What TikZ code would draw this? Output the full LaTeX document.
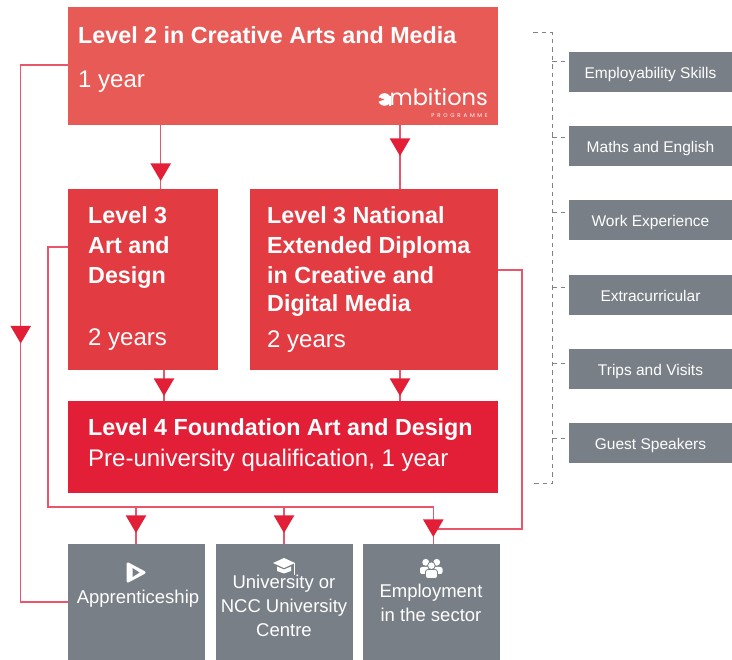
\documentclass[tikz,border=0pt]{standalone}
\usepackage{fontspec}
\setmainfont{Liberation Sans}
\newfontfamily\logofont{Poppins}
\usetikzlibrary{shapes.geometric}
\definecolor{salmonred}{HTML}{E85A56}
\definecolor{midred}{HTML}{E33B42}
\definecolor{deepred}{HTML}{E21F37}
\definecolor{linkred}{HTML}{E9556A}
\definecolor{slategrey}{HTML}{787F86}
\definecolor{dashgrey}{HTML}{7C838A}
\tikzset{
  box/.style={inner sep=0pt, outer sep=0pt, anchor=north west},
  link/.style={draw=linkred, line width=1.4pt},
  side/.style={draw=dashgrey, line width=1pt, dash pattern=on 4.5pt off 4pt},
  tip/.style={fill=deepred, inner sep=0pt, outer sep=0pt, minimum width=20.5pt, minimum height=17.5pt, isosceles triangle, isosceles triangle apex angle=60, isosceles triangle stretches, shape border rotate=-90, anchor=apex},
  head/.style={text=white, anchor=base west, inner sep=0pt, font=\fontsize{23.3}{28}\selectfont\bfseries},
  sub/.style={text=white, anchor=base west, inner sep=0pt, font=\fontsize{24}{28}\selectfont},
  caption/.style={text=white, inner sep=0pt, align=center, font=\fontsize{18.5}{24}\selectfont},
  extra/.style={box, fill=slategrey, minimum width=163pt, minimum height=40pt, text=white, text height=15pt, text depth=2pt, font=\fontsize{15.5}{18}\selectfont}
}
\begin{document}
\begin{tikzpicture}[x=1pt,y=-1pt]
  \useasboundingbox (0,0) rectangle (732,660);

  % boxes
  \node[box, fill=salmonred, minimum width=430pt, minimum height=118pt] (two) at (68,7) {};
  \node[box, fill=midred, minimum width=150pt, minimum height=181pt] (threeA) at (68,189) {};
  \node[box, fill=midred, minimum width=248pt, minimum height=181pt] (threeB) at (250,189) {};
  \node[box, fill=deepred, minimum width=430pt, minimum height=92pt] (four) at (68,401) {};
  \node[box, fill=slategrey, minimum width=137pt, minimum height=116pt] (appr) at (68,544) {};
  \node[box, fill=slategrey, minimum width=137pt, minimum height=116pt] (uni) at (216,544) {};
  \node[box, fill=slategrey, minimum width=137pt, minimum height=116pt] (job) at (363,544) {};

  % side boxes
  \node[extra] (skills) at (569,52) {Employability Skills};
  \node[extra] (maths) at (569,126) {Maths and English};
  \node[extra] (work) at (569,200) {Work Experience};
  \node[extra] (curric) at (569,275) {Extracurricular};
  \node[extra] (trips) at (569,349) {Trips and Visits};
  \node[extra] (guest) at (569,423) {Guest Speakers};

  % texts
  \node[head] (twoT) at (78,44) {Level 2 in Creative Arts and Media};
  \node[sub] (twoY) at (78,88) {1 year};
  \node[head] (a1) at (88,224) {Level 3};
  \node[head] (a2) at (88,254) {Art and};
  \node[head] (a3) at (88,284) {Design};
  \node[sub] (a4) at (88,346) {2 years};
  \node[head] (b1) at (267,224) {Level 3 National};
  \node[head] (b2) at (267,254) {Extended Diploma};
  \node[head] (b3) at (267,284) {in Creative and};
  \node[head] (b4) at (267,312) {Digital Media};
  \node[sub] (b5) at (267,348) {2 years};
  \node[head] (fourT) at (88,436) {Level 4 Foundation Art and Design};
  \node[sub] (fourS) at (88,467) {Pre-university qualification, 1 year};
  \node[caption] (apprT) at (138,599) {Apprenticeship};
  \node[caption] (uniT) at (284,606) {University or\\NCC University\\Centre};
  \node[caption] (jobT) at (431,603) {Employment\\in the sector};

  % logo
  \fill[white] (384.5,99.5) circle (6.3);
  \fill[white] (388.5,96) rectangle (390.8,106);
  \fill[salmonred] (377,97) -- (384.5,99.5) -- (377,102) -- cycle;
  \node[text=white, inner sep=0pt, anchor=base east, font=\logofont\fontsize{22.5}{24}\selectfont] (logo) at (488,106) {mbitions};
  \node[text=white, inner sep=0pt, anchor=base east, font=\logofont\fontsize{5.5}{6}\selectfont\addfontfeature{LetterSpace=50}] (prog) at (488,118) {PROGRAMME};

  % icons
  \filldraw[white, line width=3pt, line join=round] (128,564) -- (144,572.5) -- (128,581) -- cycle;
  \fill[slategrey] (132.5,568) -- (139.5,572.5) -- (132.5,577) -- cycle;
  \fill[white] (273,563) -- (284,558) -- (295,563) -- (284,568) -- cycle;
  \fill[white] (277,566.5) -- (284,569.5) -- (291,566.5) -- (291,571) -- (284,573.5) -- (277,571) -- cycle;
  \draw[white, line width=0.9pt] (294,563) -- (294,575);
  \fill[white] (425.7,562.3) circle (3.4);
  \fill[white] (436.7,562.3) circle (3.4);
  \fill[white, rounded corners=2pt] (420,574) -- (420,567) -- (442.5,567) -- (442.5,574) -- cycle;
  \fill[white, draw=slategrey, line width=0.8pt] (431.4,565.7) circle (3.8);
  \fill[white, draw=slategrey, line width=0.8pt, rounded corners=2.5pt] (425.5,578.5) -- (425.5,569.5) -- (437.5,569.5) -- (437.5,578.5) -- cycle;

  % apex of each arrow tip
  \coordinate (t1) at (160.7,181);
  \coordinate (t2) at (400,156);
  \coordinate (t3) at (164,396);
  \coordinate (t4) at (400,396);
  \coordinate (t5) at (20.7,343.5);
  \coordinate (t6) at (136,533);
  \coordinate (t7) at (284,533);
  \coordinate (t8) at (433.3,537);

  % connectors
  \coordinate (corner1) at (20.7,65);
  \coordinate (corner2) at (48,247);
  \coordinate (corner3) at (48,507);
  \coordinate (corner4) at (522,270);
  \coordinate (corner5) at (522,529);

  \draw[link] (t1 |- two.south) -- (t1 |- threeA.north);
  \draw[link] (t2 |- two.south) -- (t2 |- threeB.north);
  \draw[link] (t3 |- threeA.south) -- (t3 |- four.north);
  \draw[link] (t4 |- threeB.south) -- (t4 |- four.north);
  \draw[link] (corner1 -| two.west) -- (corner1) -- (corner1 |- appr.west) -- (appr.west);
  \draw[link] (corner2 -| threeA.west) -- (corner2) -- (corner3) -| (t8 |- job.north);
  \draw[link] (t6 |- corner3) -- (t6 |- appr.north);
  \draw[link] (t7 |- corner3) -- (t7 |- uni.north);
  \draw[link] (corner4 -| threeB.east) -- (corner4) -- (corner5) -- (corner5 -| t8);

  \foreach \t in {t1,t2,t3,t4,t5,t6,t7,t8} {
    \node[tip] at (\t) {};
  }

  % side bracket
  \coordinate (top) at (552.3,32.5);
  \coordinate (bot) at (552.3,484);
  \draw[side] (533,32.5) -- (top) -- (bot) -- (533,484);
  \foreach \b/\y in {skills/62,maths/137.7,work/213,curric/288,trips/363.5,guest/439} {
    \draw[side] (552.3,\y) -- ([xshift=-4pt]\b.west |- 0,\y);
  }
\end{tikzpicture}
\end{document}
